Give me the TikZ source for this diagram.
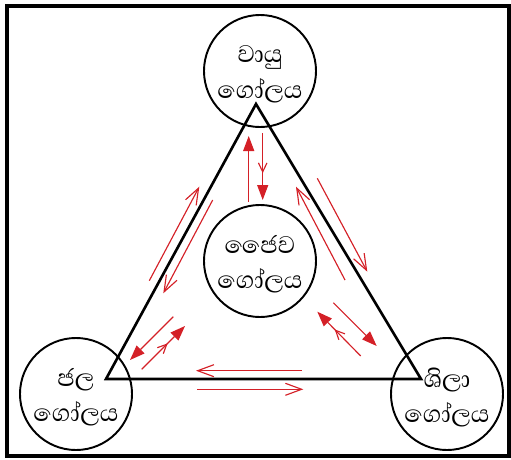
\documentclass[tikz,border=0pt]{standalone}
\usepackage{fontspec}
\newfontfamily\sinhalafont[Script=Sinhala]{Abhaya Libre}
\newcommand\spherefont{\sinhalafont\fontsize{35}{40}\selectfont\lineskiplimit=-30pt\relax}
\usetikzlibrary{arrows.meta,decorations.markings}
\definecolor{flowred}{RGB}{212,32,39}

\begin{document}
\begin{tikzpicture}[x=0.04cm,y=-0.04cm]
\tikzset{
  sphere/.style={circle,draw,line width=2.2pt,minimum size=4.48cm,inner sep=0pt},
  spherename/.style={font=\spherefont,align=center,inner sep=0pt,yshift=-0.13cm},
  flowopen/.style={draw=flowred,line width=1.3pt,-{Straight Barb[length=6.5mm,width=4.8mm]}},
  flowsolid/.style={draw=flowred,line width=1.3pt,-{Triangle[length=6mm,width=4.4mm]}},
  midbarb/.style={postaction={decorate},decoration={markings,
    mark=at position 0.6 with {\arrow[flowred,line width=1.3pt]{Straight Barb[length=3.6mm,width=3.4mm]}}}}
}
\useasboundingbox (0,0) rectangle (511,459);
\draw[line width=3.6pt] (7,6) rectangle (509,456);

% spheres
\node[sphere,label={[spherename]center:වායු\\ගෝලය}] (atm) at (260,71) {};
\node[sphere,label={[spherename]center:ජෛව\\ගෝලය}] (bio) at (260,261) {};
\node[sphere,label={[spherename]center:ජල\\ගෝලය}] (hyd) at (76,394) {};
\node[sphere,label={[spherename]center:ශිලා\\ගෝලය}] (lit) at (447,394) {};

% triangle
\coordinate (t-top) at (256,104);
\coordinate (t-left) at (106,379);
\coordinate (t-right) at (421,379);
\draw[line width=3pt,line join=miter] (t-top) -- (t-left) -- (t-right) -- cycle;

% flow end points
\coordinate (ba-s) at (248.7,201.7);
\coordinate (ba-e) at (248.7,136);
\coordinate (ab-s) at (262.7,133);
\coordinate (ab-e) at (262.7,200);
\coordinate (ha-s) at (149.3,280.7);
\coordinate (ha-e) at (199.3,186.7);
\coordinate (ah-s) at (212.7,200);
\coordinate (ah-e) at (163.3,293.3);
\coordinate (la-s) at (345,280);
\coordinate (la-e) at (296,186.7);
\coordinate (al-s) at (317.3,178.3);
\coordinate (al-e) at (367.3,271.7);
\coordinate (bh-s) at (173.3,316.7);
\coordinate (bh-e) at (130,360);
\coordinate (hb-s) at (141.7,369.3);
\coordinate (hb-e) at (185,326);
\coordinate (bl-s) at (333.3,302.7);
\coordinate (bl-e) at (376.7,346);
\coordinate (lb-s) at (360.7,356);
\coordinate (lb-e) at (317.3,311.7);
\coordinate (lh-s) at (301.7,370.7);
\coordinate (lh-e) at (196,370.7);
\coordinate (hl-s) at (197.3,389.3);
\coordinate (hl-e) at (303.3,389.3);

% flows
\draw[flowsolid] (ba-s) -- (ba-e);
\draw[flowsolid,midbarb] (ab-s) -- (ab-e);
\draw[flowopen] (ha-s) -- (ha-e);
\draw[flowopen] (ah-s) -- (ah-e);
\draw[flowopen] (la-s) -- (la-e);
\draw[flowopen] (al-s) -- (al-e);
\draw[flowsolid] (bh-s) -- (bh-e);
\draw[flowsolid,midbarb] (hb-s) -- (hb-e);
\draw[flowsolid] (bl-s) -- (bl-e);
\draw[flowsolid,midbarb] (lb-s) -- (lb-e);
\draw[flowopen] (lh-s) -- (lh-e);
\draw[flowopen] (hl-s) -- (hl-e);
\end{tikzpicture}
\end{document}
